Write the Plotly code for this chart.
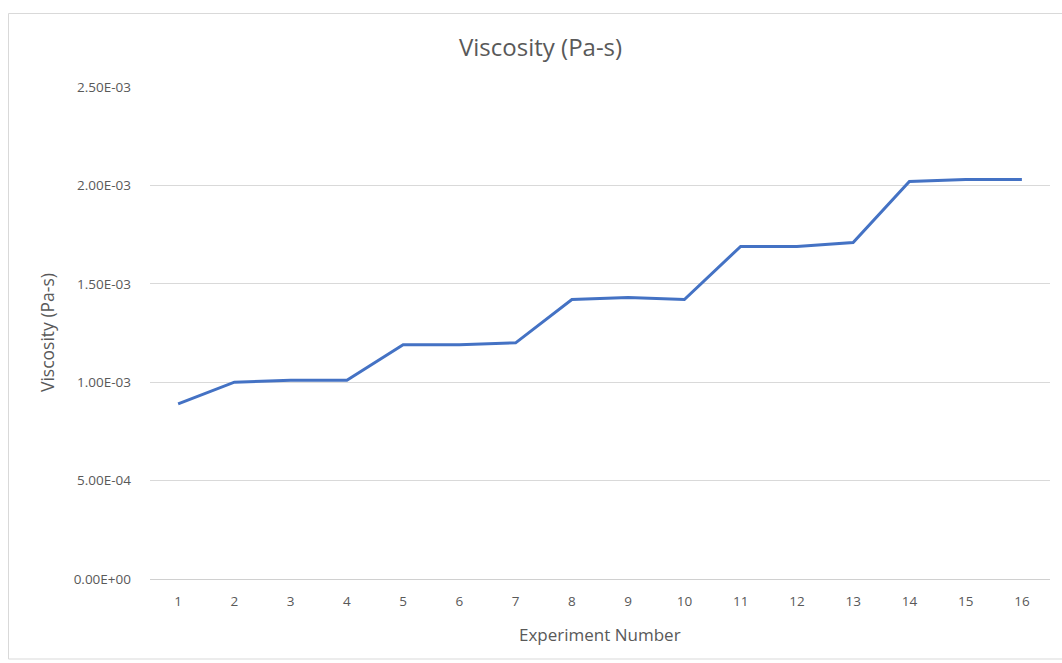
import plotly.graph_objects as go

# Experiment numbers and measured viscosity values (Pa-s)
experiments = [str(i) for i in range(1, 17)]
viscosity = [0.89e-3, 1.00e-3, 1.01e-3, 1.01e-3, 1.19e-3, 1.19e-3, 1.20e-3,
             1.42e-3, 1.43e-3, 1.42e-3, 1.69e-3, 1.69e-3, 1.71e-3,
             2.02e-3, 2.03e-3, 2.03e-3]

y_tick_vals = [0, 0.5e-3, 1.0e-3, 1.5e-3, 2.0e-3, 2.5e-3]
y_tick_text = ["0.00E+00", "5.00E-04", "1.00E-03", "1.50E-03", "2.00E-03", "2.50E-03"]

W, H = 1062, 663
L, R, T, B = 150, 12, 87, 84
pw, ph = W - L - R, H - T - B

def px_x(p):
    return (p - L) / pw

def px_y(p):
    return (H - B - p) / ph

font_family = "'Open Sans', Lato, sans-serif"
grey = "#595959"

fig = go.Figure()
fig.add_trace(go.Scatter(
    x=experiments, y=viscosity, mode="lines",
    line=dict(color="#4472C4", width=3),
    hoverinfo="x+y", showlegend=False,
))

fig.update_layout(
    width=W, height=H,
    margin=dict(l=L, r=R, t=T, b=B, pad=0),
    paper_bgcolor="white", plot_bgcolor="white",
    font=dict(family=font_family, color=grey, size=12),
    xaxis=dict(
        type="category", range=[-0.5, len(experiments) - 0.5],
        showgrid=False, zeroline=False,
        showline=False, ticks="", tickfont=dict(size=13.5, color=grey),
        ticklabelstandoff=12,
    ),
    yaxis=dict(
        range=[0, 2.5e-3], tickvals=y_tick_vals, ticktext=y_tick_text,
        showgrid=True, gridcolor="#d9d9d9", gridwidth=1,
        zeroline=True, zerolinecolor="#d0d0d0", zerolinewidth=1,
        showline=False, ticks="", tickfont=dict(size=13.5, color=grey),
        ticklabelstandoff=18,
    ),
    shapes=[dict(
        type="rect", xref="paper", yref="paper",
        x0=px_x(8.5), x1=px_x(1075), y0=px_y(659), y1=px_y(13.5),
        line=dict(color="#d9d9d9", width=1), fillcolor="rgba(0,0,0,0)",
        layer="below",
    )],
    annotations=[
        dict(text="Viscosity (Pa-s)", xref="paper", yref="paper",
             x=px_x(540), y=px_y(46), showarrow=False,
             xanchor="center", yanchor="middle",
             font=dict(size=24, color=grey, family=font_family)),
        dict(text="Experiment Number", xref="paper", yref="paper",
             x=px_x(600), y=px_y(634), showarrow=False,
             xanchor="center", yanchor="middle",
             font=dict(size=17, color=grey, family=font_family)),
        dict(text="Viscosity (Pa-s)", xref="paper", yref="paper",
             x=px_x(47), y=px_y(333), showarrow=False, textangle=-90,
             xanchor="center", yanchor="middle",
             font=dict(size=17.5, color=grey, family=font_family)),
    ],
)

fig.write_html("out.html")
